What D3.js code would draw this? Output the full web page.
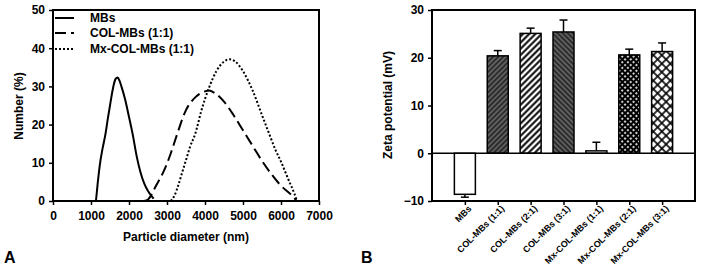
<!DOCTYPE html>
<html>
<head>
<meta charset="utf-8">
<script src="https://cdn.jsdelivr.net/npm/d3@7"></script>
<style>
  html, body { margin: 0; padding: 0; background: #fff; }
  svg { display: block; font-family: "Liberation Sans", Arial, sans-serif; font-weight: bold; }
</style>
</head>
<body>
<svg id="chart" width="703" height="270"></svg>
<script>
// ---------- Panel A data ----------
const seriesNames = ["MBs", "COL-MBs (1:1)", "Mx-COL-MBs (1:1)"];
const mbsCurve = [
  [1130,0],[1180,5],[1240,10],[1300,13.5],[1380,17.5],[1450,22],[1500,25],[1550,28],
  [1600,30.5],[1650,32],[1700,32.3],[1750,31.5],[1800,30],[1900,26.5],[2000,22],
  [2100,17.3],[2200,11.8],[2300,7.6],[2400,4.6],[2500,2.6],[2600,1.2],[2650,0.6]
];
const colCurve = [
  [2400,0],[2500,0.4],[2600,1.8],[2700,3.8],[2800,5.6],[2900,7.5],[3000,9.8],[3100,12.5],
  [3250,17],[3500,23.8],[3750,27.2],[4000,28.7],[4100,28.9],[4250,28.3],[4500,26],
  [4750,22.5],[5000,18.5],[5250,14.5],[5500,10.5],[5750,7],[6000,4],[6250,1.8],[6400,0.2]
];
const mxCurve = [
  [3100,0],[3200,1.5],[3300,4.2],[3400,7.5],[3500,10.7],[3600,14],[3750,17.8],[3900,23.5],
  [4100,29.5],[4300,34],[4500,36.5],[4650,37.1],[4800,36.5],[5000,34],[5250,29],
  [5500,22.5],[5700,17.3],[5850,13.5],[6000,10.3],[6200,5.5],[6350,2],[6420,0]
];
const xTicksA = [0,1000,2000,3000,4000,5000,6000,7000];
const yTicksA = [0,10,20,30,40,50];

// ---------- Panel B data ----------
const categories = ["MBs","COL-MBs (1:1)","COL-MBs (2:1)","COL-MBs (3:1)","Mx-COL-MBs (1:1)","Mx-COL-MBs (2:1)","Mx-COL-MBs (3:1)"];
const zeta = [-8.6, 20.4, 25.1, 25.4, 0.5, 20.6, 21.3];
const zetaErr = [0.6, 1.1, 1.1, 2.5, 1.8, 1.2, 1.8];
const yTicksB = [-10,0,10,20,30];

const svg = d3.select("#chart");
const FONT = "'Liberation Sans', Arial, sans-serif";

// ---------- patterns ----------
const defs = svg.append("defs");
function hatch(id, bg, fg, size, width, angle) {
  const p = defs.append("pattern").attr("id", id).attr("patternUnits","userSpaceOnUse")
    .attr("width", size).attr("height", size).attr("patternTransform", `rotate(${angle})`);
  p.append("rect").attr("width", size).attr("height", size).attr("fill", bg);
  p.append("line").attr("x1", size/2).attr("x2", size/2).attr("y1", 0).attr("y2", size)
    .attr("stroke", fg).attr("stroke-width", width);
}
function cross(id, bg, fg, size, width) {
  const p = defs.append("pattern").attr("id", id).attr("patternUnits","userSpaceOnUse")
    .attr("width", size).attr("height", size).attr("patternTransform", "rotate(45)");
  p.append("rect").attr("width", size).attr("height", size).attr("fill", bg);
  p.append("line").attr("x1", size/2).attr("x2", size/2).attr("y1", 0).attr("y2", size)
    .attr("stroke", fg).attr("stroke-width", width);
  p.append("line").attr("y1", size/2).attr("y2", size/2).attr("x1", 0).attr("x2", size)
    .attr("stroke", fg).attr("stroke-width", width);
}
hatch("pDarkFwd", "#2b2b2b", "#8a8a8a", 3.6, 1, 45);
hatch("pWhiteFwd", "#ffffff", "#000000", 4.4, 2, 45);
hatch("pDarkBack", "#2b2b2b", "#8a8a8a", 3.6, 1, -45);
cross("pDenseCross", "#ffffff", "#000000", 4, 2.2);
cross("pOpenCross", "#ffffff", "#000000", 6, 1.6);
const fills = ["#ffffff","url(#pDarkFwd)","url(#pWhiteFwd)","url(#pDarkBack)","#ffffff","url(#pDenseCross)","url(#pOpenCross)"];

// ================= Panel A =================
const xA = d3.scaleLinear().domain([0,7000]).range([53,319]);
const yA = d3.scaleLinear().domain([0,50]).range([201,10]);
const gA = svg.append("g");

const axXA = gA.append("g").attr("transform","translate(0,201)")
  .call(d3.axisBottom(xA).tickValues(xTicksA).tickSize(4).tickSizeOuter(0).tickFormat(d3.format("d")));
const axYA = gA.append("g").attr("transform","translate(53,0)")
  .call(d3.axisLeft(yA).tickValues(yTicksA).tickSize(4).tickSizeOuter(0));
[axXA, axYA].forEach(a => {
  a.select(".domain").remove();
  a.selectAll("line").attr("stroke","#000").attr("stroke-width",1.5);
  a.selectAll("text").attr("font-size",12).attr("font-weight","bold").attr("fill","#000")
    .attr("font-family", FONT);
});
axXA.selectAll("text").attr("dy","1.0em");
axYA.selectAll("text").attr("dx","-1px");

gA.append("rect").attr("x",53).attr("y",10).attr("width",266).attr("height",191)
  .attr("fill","none").attr("stroke","#000").attr("stroke-width",2);

const line = d3.line().x(d => xA(d[0])).y(d => yA(d[1])).curve(d3.curveMonotoneX);
const curves = [mbsCurve, colCurve, mxCurve];
const dashes = [null, "11,5", "2,2"];
curves.forEach((c,i) => {
  gA.append("path").datum(c).attr("d", line).attr("fill","none").attr("stroke","#000")
    .attr("stroke-width", 2).attr("stroke-dasharray", dashes[i]);
});

// legend
const legY = [18, 33, 49];
seriesNames.forEach((n,i) => {
  gA.append("line").attr("x1",55).attr("x2",74).attr("y1",legY[i]).attr("y2",legY[i])
    .attr("stroke","#000").attr("stroke-width",2).attr("stroke-dasharray", dashes[i]);
  gA.append("text").attr("x",90).attr("y",legY[i]).attr("dy","0.35em")
    .attr("font-size",12).text(n);
});

gA.append("text").attr("transform","translate(23,106) rotate(-90)").attr("text-anchor","middle")
  .attr("font-size",12).text("Number (%)");
gA.append("text").attr("x",186).attr("y",241).attr("text-anchor","middle")
  .attr("font-size",12).text("Particle diameter (nm)");
gA.append("text").attr("x",4).attr("y",263).attr("font-size",16).text("A");

// ================= Panel B =================
const xB = d3.scalePoint().domain(categories).range([432,695]).padding(1);
const yB = d3.scaleLinear().domain([-10,30]).range([201,10]);
const gB = svg.append("g");
const barW = 21;

const axYB = gB.append("g").attr("transform","translate(432,0)")
  .call(d3.axisLeft(yB).tickValues(yTicksB).tickSize(4).tickSizeOuter(0));
axYB.select(".domain").remove();
axYB.selectAll("line").attr("stroke","#000").attr("stroke-width",1.5);
axYB.selectAll("text").attr("font-size",12).attr("font-weight","bold").attr("fill","#000")
  .attr("font-family", FONT).attr("dx","-1px");

const axXB = gB.append("g").attr("transform","translate(0,201)")
  .call(d3.axisBottom(xB).tickSize(4).tickSizeOuter(0).tickFormat(""));
axXB.select(".domain").remove();
axXB.selectAll("line").attr("stroke","#000").attr("stroke-width",1.5);

// error bars
categories.forEach((c,i) => {
  const v = zeta[i], e = zetaErr[i];
  const cx = xB(c);
  const yEnd = v >= 0 ? yB(v + e) : yB(v - e);
  gB.append("line").attr("x1",cx).attr("x2",cx).attr("y1",yB(v)).attr("y2",yEnd)
    .attr("stroke","#000").attr("stroke-width",1.5);
  gB.append("line").attr("x1",cx-4).attr("x2",cx+4).attr("y1",yEnd).attr("y2",yEnd)
    .attr("stroke","#000").attr("stroke-width",1.5);
});

gB.selectAll("rect.bar").data(categories).enter().append("rect").attr("class","bar")
  .attr("x", d => xB(d) - barW/2).attr("width", barW)
  .attr("y", (d,i) => yB(Math.max(0, zeta[i])))
  .attr("height", (d,i) => Math.abs(yB(zeta[i]) - yB(0)))
  .attr("fill", (d,i) => fills[i]).attr("stroke","#000").attr("stroke-width",1.5);

// zero line
gB.append("line").attr("x1",432).attr("x2",695).attr("y1",yB(0)).attr("y2",yB(0))
  .attr("stroke","#000").attr("stroke-width",1.5);

gB.append("rect").attr("x",432).attr("y",10).attr("width",263).attr("height",191)
  .attr("fill","none").attr("stroke","#000").attr("stroke-width",2);

// rotated category labels
categories.forEach(c => {
  gB.append("text").attr("transform",`translate(${xB(c)+5},${207}) rotate(-45)`)
    .attr("text-anchor","end").attr("dy","0.35em").attr("font-size",9).text(c);
});

gB.append("text").attr("transform","translate(392,105) rotate(-90)").attr("text-anchor","middle")
  .attr("font-size",12).text("Zeta potential (mV)");
gB.append("text").attr("x",361).attr("y",263).attr("font-size",16).text("B");
</script>
</body>
</html>
